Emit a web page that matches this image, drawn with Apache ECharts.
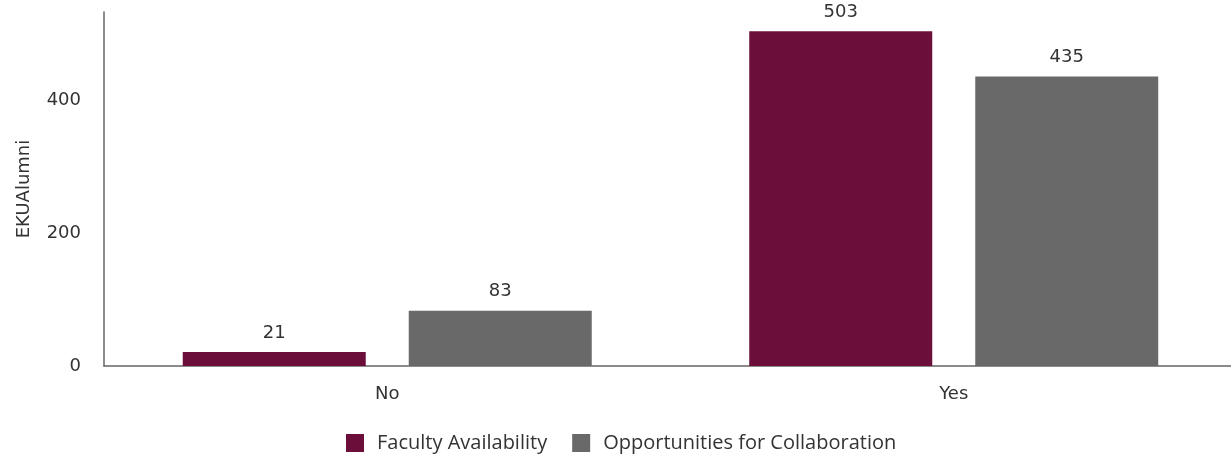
<!DOCTYPE html>
<html><head><meta charset="utf-8">
<script src="https://cdn.jsdelivr.net/npm/echarts@6/dist/echarts.min.js"></script>
<style>html,body{margin:0;padding:0;background:#fff}#c{width:1231px;height:456px}</style>
</head><body><div id="c"></div>
<script>
const categories = ["No", "Yes"];
const facultyAvailability = [21, 503];
const opportunitiesCollab = [83, 435];
const yTicks = [0, 200, 400];

const FONT = 'DejaVu Sans';
const chart = echarts.init(document.getElementById('c'));
chart.setOption({
  animation: false,
  grid: { left: 104, width: 1133, top: 12, height: 354, containLabel: false, outerBoundsMode: 'none' },
  legend: {
    bottom: 3, left: 346, padding: 0,
    itemWidth: 18, itemHeight: 18, itemGap: 25, icon: 'rect',
    textStyle: { fontFamily: 'Open Sans', fontSize: 20, color: '#333', padding: [0, 0, 0, 8] },
    data: ['Faculty Availability', 'Opportunities for Collaboration']
  },
  xAxis: {
    type: 'category', data: categories,
    axisLine: { lineStyle: { color: '#666', width: 1.5 } },
    axisTick: { show: false },
    axisLabel: { color: '#333', fontFamily: FONT, fontSize: 18, margin: 19 }
  },
  yAxis: {
    type: 'value', min: 0, max: 532, interval: 200,
    name: 'EKUAlumni', nameLocation: 'middle', nameGap: 71,
    nameTextStyle: { color: '#333', fontFamily: FONT, fontSize: 18 },
    axisLine: { show: true, lineStyle: { color: '#666', width: 1.5 } },
    axisTick: { show: false },
    splitLine: { show: false },
    axisLabel: { color: '#333', fontFamily: FONT, fontSize: 18, margin: 23, showMaxLabel: false,
      formatter: v => yTicks.includes(v) ? String(v) : '' }
  },
  series: [
    { name: 'Faculty Availability', type: 'bar', data: facultyAvailability,
      barWidth: 183, barGap: '23.5%',
      itemStyle: { color: '#6b0f3a' },
      label: { show: true, position: 'top', distance: 10, color: '#333', fontFamily: FONT, fontSize: 18 } },
    { name: 'Opportunities for Collaboration', type: 'bar', data: opportunitiesCollab,
      barWidth: 183,
      itemStyle: { color: '#696969' },
      label: { show: true, position: 'top', distance: 10, color: '#333', fontFamily: FONT, fontSize: 18 } }
  ]
});
</script></body></html>
